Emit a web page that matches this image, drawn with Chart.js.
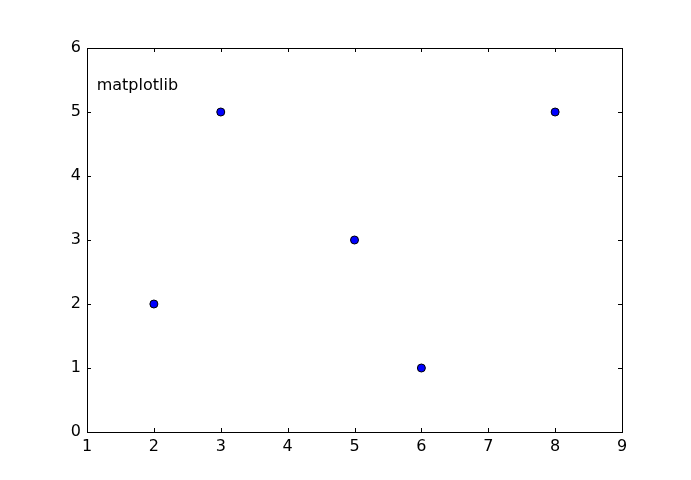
<!DOCTYPE html>
<html>
<head>
<meta charset="utf-8">
<script src="https://cdn.jsdelivr.net/npm/chart.js@4"></script>
<style>
  html, body { margin: 0; padding: 0; background: #fff; }
  #wrap { width: 691px; height: 480px; }
</style>
</head>
<body>
<div id="wrap"><canvas id="chart"></canvas></div>
<script>
const xValues = [2, 3, 5, 6, 8];
const yValues = [2, 5, 3, 1, 5];
const xTicks = [1, 2, 3, 4, 5, 6, 7, 8, 9];
const yTicks = [0, 1, 2, 3, 4, 5, 6];
const label = 'matplotlib';

// inward tick marks on all four sides, plus the text label
const mplFrame = {
  id: 'mplFrame',
  afterDraw(chart) {
    const { ctx, chartArea: a, scales: { x, y } } = chart;
    ctx.save();
    ctx.strokeStyle = '#000';
    ctx.lineWidth = 1;
    ctx.beginPath();
    xTicks.forEach(v => {
      const px = Math.round(x.getPixelForValue(v)) + 0.5;
      ctx.moveTo(px, a.bottom); ctx.lineTo(px, a.bottom - 4);
      ctx.moveTo(px, a.top); ctx.lineTo(px, a.top + 4);
    });
    yTicks.forEach(v => {
      const py = Math.round(y.getPixelForValue(v)) + 0.5;
      ctx.moveTo(a.left, py); ctx.lineTo(a.left + 4, py);
      ctx.moveTo(a.right, py); ctx.lineTo(a.right - 4, py);
    });
    ctx.stroke();
    ctx.strokeRect(a.left + 0.5, a.top + 0.5, a.right - a.left, a.bottom - a.top);

    ctx.fillStyle = '#000';
    ctx.font = '16px "DejaVu Sans"';
    ctx.textBaseline = 'alphabetic';
    ctx.fillText(label, a.left + (a.right - a.left) * 0.02 - 1, a.top + (a.bottom - a.top) * 0.1 + 4);
    ctx.restore();
  }
};

new Chart(document.getElementById('chart'), {
  type: 'scatter',
  data: {
    datasets: [{
      data: xValues.map((v, i) => ({ x: v, y: yValues[i] })),
      backgroundColor: '#0000ff',
      borderColor: '#000',
      borderWidth: 1,
      pointRadius: 4,
      pointHoverRadius: 4
    }]
  },
  options: {
    responsive: true,
    maintainAspectRatio: false,
    animation: false,
    events: [],
    layout: { padding: { left: 0, top: 48, right: 69, bottom: 0 } },
    plugins: {
      legend: { display: false },
      tooltip: { enabled: false }
    },
    scales: {
      x: {
        min: 1, max: 9,
        afterFit: s => { s.height = 48; },
        afterBuildTicks: s => { s.ticks = xTicks.map(v => ({ value: v })); },
        grid: { display: false, drawTicks: false },
        border: { display: false },
        ticks: { color: '#000', font: { family: 'DejaVu Sans', size: 16 }, padding: 5, maxRotation: 0 }
      },
      y: {
        min: 0, max: 6,
        afterFit: s => { s.width = 87; },
        afterBuildTicks: s => { s.ticks = yTicks.map(v => ({ value: v })); },
        grid: { display: false, drawTicks: false },
        border: { display: false },
        ticks: { color: '#000', font: { family: 'DejaVu Sans', size: 16 }, padding: 6 }
      }
    }
  },
  plugins: [mplFrame]
});
</script>
</body>
</html>
